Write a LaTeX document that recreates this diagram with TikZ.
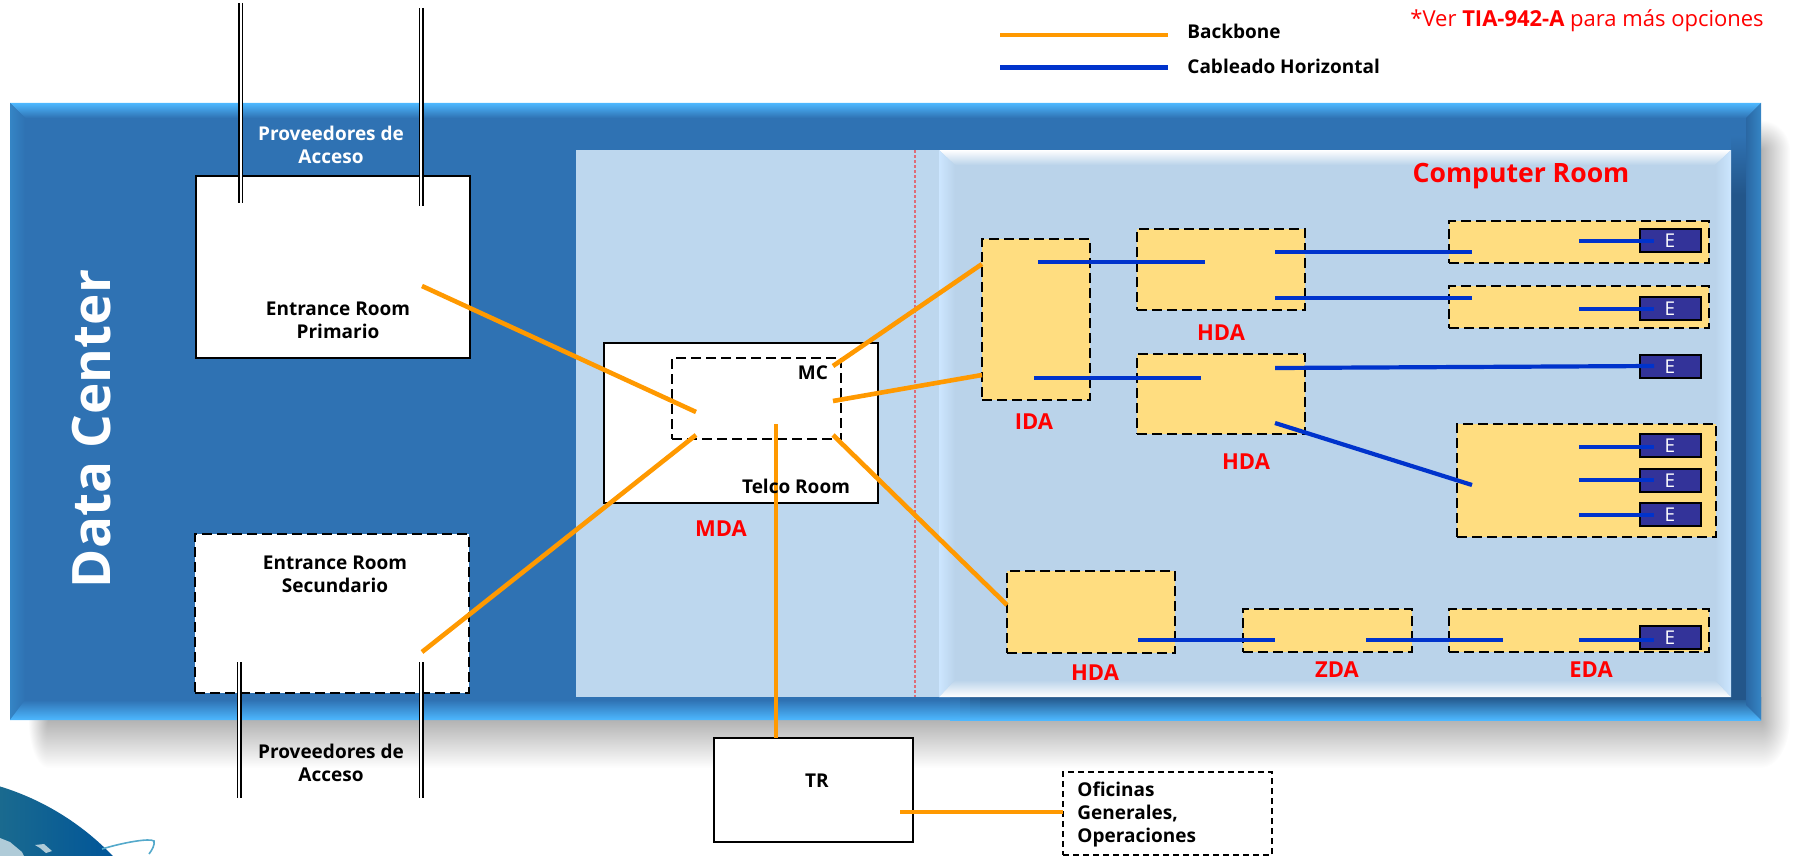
\documentclass[tikz,border=0pt]{standalone}
\usepackage{fontspec}
\setmainfont{Open Sans}
\definecolor{dcblue}{HTML}{2F72B3}
\definecolor{dcdark}{HTML}{23568A}
\definecolor{dclight}{HTML}{4DB8FF}
\definecolor{dcrim}{HTML}{3585C5}
\definecolor{roomblue}{HTML}{BDD7EE}
\definecolor{crblue}{HTML}{BAD3EA}
\definecolor{crlight}{HTML}{CCE6FF}
\definecolor{areayellow}{HTML}{FFDD80}
\definecolor{backbone}{HTML}{FF9900}
\definecolor{horiz}{HTML}{0033CC}
\definecolor{equip}{HTML}{333399}
\definecolor{shade}{HTML}{B3B3B3}
\definecolor{globea}{HTML}{1A6A8F}
\definecolor{globeb}{HTML}{004466}
\definecolor{globec}{HTML}{005599}
\tikzset{
  room/.style={draw=black,fill=white,line width=1pt,inner sep=0pt,outer sep=0pt},
  dashroom/.style={room,dash pattern=on 5pt off 2.5pt},
  area/.style={dashroom,fill=areayellow,line width=.8pt},
  equipo/.style={draw=black,fill=equip,line width=1pt,inner sep=0pt,outer sep=0pt,minimum width=30.5pt,minimum height=11.5pt,text=white,font=\fontsize{9.5}{10}\selectfont},
  label/.style={font=\fontsize{9.5}{11.5}\selectfont\bfseries,inner sep=0pt,align=center},
  redlabel/.style={font=\fontsize{11}{12}\selectfont\bfseries,text=red,inner sep=0pt},
  bb/.style={draw=backbone,line width=2.3pt},
  hz/.style={draw=horiz,line width=2.1pt},
  proveedor/.style={double=white,draw=black,line width=.75pt,double distance=1pt}
}
\begin{document}
\begin{tikzpicture}[x=.5pt,y=-.5pt]
\useasboundingbox (0,0) rectangle (1793,856);
\shade[top color=shade,bottom color=white] (48,720) rectangle (1761,768);
\shade[left color=shade,right color=white] (1761,150) rectangle (1790,720);
\begin{scope}
  \clip (28,720) rectangle (48,768);
  \shade[inner color=shade,outer color=white] (48,720) ellipse[x radius=20,y radius=48];
\end{scope}
\begin{scope}
  \clip (1761,120) rectangle (1790,150);
  \shade[inner color=shade,outer color=white] (1761,150) ellipse[x radius=29,y radius=30];
\end{scope}
\begin{scope}
  \clip (1761,720) rectangle (1790,768);
  \shade[inner color=shade,outer color=white] (1761,720) ellipse[x radius=29,y radius=48];
\end{scope}
\fill[dcblue] (10,103) rectangle (1761,720);
\shade[top color=dclight,bottom color=dcblue] (10,103) -- (1761,103) -- (1746,118) -- (25,118) -- cycle;
\shade[left color=dcrim,right color=dcblue] (10,103) -- (25,118) -- (25,705) -- (10,720) -- cycle;
\shade[top color=dcblue,bottom color=dclight] (25,700) -- (950,700) -- (950,720) -- (10,720) -- cycle;
\shade[top color=dcblue!75!dcdark,bottom color=dclight] (950,697) rectangle (960,720);
\shade[top color=dcblue!50!dcdark,bottom color=dclight] (960,697) rectangle (970,720);
\shade[top color=dcblue!25!dcdark,bottom color=dclight] (970,697) rectangle (980,720);
\shade[top color=dcdark,bottom color=dclight] (980,697) -- (1761,697) -- (1761,720) -- (980,720) -- cycle;
\shade[top color=dcblue,bottom color=dcdark] (1731,135) rectangle (1746,195);
\fill[dcdark] (1731,195) rectangle (1746,700);
\shade[left color=dcblue!60!dcdark,right color=dcrim] (1746,118) -- (1761,103) -- (1761,720) -- (1746,705) -- cycle;
\fill[roomblue] (576,150) rectangle (939,697);
\fill[crblue] (939,150) rectangle (1731,697);
\shade[top color=white,bottom color=crblue] (939,150) -- (1731,150) -- (1715,165) -- (955,165) -- cycle;
\shade[top color=crblue,bottom color=white] (955,680) -- (1715,680) -- (1731,697) -- (939,697) -- cycle;
\shade[left color=crlight,right color=crblue] (939,150) -- (955,165) -- (955,680) -- (939,697) -- cycle;
\shade[left color=crblue,right color=crlight] (1715,165) -- (1731,150) -- (1731,697) -- (1715,680) -- cycle;
\draw[draw=red!50!roomblue,line width=.7pt,dash pattern=on 1.5pt off 1pt] (915,150) -- (915,697);
\begin{scope}
  \clip (-77,1038) circle[radius=263];
  \shade[left color=globea,middle color=globeb,right color=globec] (0,770) rectangle (115,856);
  \fill[white!65!globea] (0,838) -- (10,842) -- (22,852) -- (24,856) -- (0,856) -- cycle;
  \fill[white!65!globea] (35,845) -- (44,844) -- (52,851) -- (46,853) -- (40,848) -- cycle;
\end{scope}
\draw[draw=cyan!60!gray,line width=.8pt] (102,849) .. controls (125,842) and (150,838) .. (154,841) .. controls (155,845) and (152,850) .. (149,854);
\node[room,minimum width=137pt,minimum height=91pt] (ep) at (333,267) {};
\node[dashroom,minimum width=137pt,minimum height=79.5pt] (es) at (332,613.5) {};
\node[room,minimum width=137pt,minimum height=80pt] (telco) at (741,423) {};
\node[dashroom,minimum width=84.5pt,minimum height=40.5pt] (mc) at (756.5,398.5) {};
\node[room,minimum width=99.5pt,minimum height=52pt] (tr) at (813.5,790) {};
\node[dashroom,line width=.8pt,dash pattern=on 3pt off 2pt,minimum width=104.5pt,minimum height=41.5pt] (ofi) at (1167.5,813.5) {};
\node[area,minimum width=54pt,minimum height=80.5pt] (ida) at (1036,319.5) {};
\node[area,minimum width=84pt,minimum height=40.5pt] (hda1) at (1221,269.5) {};
\node[area,minimum width=84pt,minimum height=40pt] (hda2) at (1221,394) {};
\node[area,minimum width=84pt,minimum height=41pt] (hda3) at (1091,612) {};
\node[area,minimum width=84.5pt,minimum height=21.5pt] (zda) at (1327.5,630.5) {};
\node[area,minimum width=130pt,minimum height=21.5pt] (eda) at (1579,630.5) {};
\node[area,minimum width=130pt,minimum height=21pt] (eda1) at (1579,242) {};
\node[area,minimum width=130pt,minimum height=21pt] (eda2) at (1579,307) {};
\node[area,minimum width=129.5pt,minimum height=56.5pt] (eda4) at (1586.5,480.5) {};
\node[equipo] (e1) at (1670,240.5) {E}; \node[equipo] (e2) at (1670,308.5) {E};
\node[equipo] (e3) at (1670,366.5) {E}; \node[equipo] (e4) at (1670,445.5) {E};
\node[equipo] (e5) at (1670,480.5) {E}; \node[equipo] (e6) at (1670,514.5) {E};
\node[equipo] (e7) at (1670,637.5) {E};
\coordinate (pt1) at (240.5,3); \coordinate (pt1b) at (240.5,203);
\coordinate (pt2) at (421,8); \coordinate (pt2b) at (421,206);
\coordinate (pb1) at (239,662); \coordinate (pb1b) at (239,798);
\coordinate (pb2) at (421,662); \coordinate (pb2b) at (421,798);
\draw[proveedor] (pt1) -- (pt1b); \draw[proveedor] (pt2) -- (pt2b);
\draw[proveedor] (pb1) -- (pb1b); \draw[proveedor] (pb2) -- (pb2b);
\coordinate (epa) at (422,286); \coordinate (mca) at (696,412);
\coordinate (esa) at (422,652); \coordinate (mcb) at (696,435);
\coordinate (mcc) at (833,366); \coordinate (idaa) at (982,264);
\coordinate (mcd) at (833,401); \coordinate (idab) at (982,375);
\coordinate (mce) at (833,435); \coordinate (hdaa) at (1007,605);
\coordinate (mcf) at (776,424); \coordinate (tra) at (776,738);
\coordinate (trb) at (900,812); \coordinate (ofia) at (1063,812);
\draw[bb] (epa) -- (mca); \draw[bb] (esa) -- (mcb);
\draw[bb] (mcc) -- (idaa); \draw[bb] (mcd) -- (idab);
\draw[bb] (mce) -- (hdaa); \draw[bb] (mcf) -- (tra);
\draw[bb] (trb) -- (ofia);
\coordinate (ida1) at (1038,262); \coordinate (hd1) at (1205,262);
\coordinate (ida2) at (1034,378); \coordinate (hd2) at (1201,378);
\coordinate (hd1a) at (1275,252); \coordinate (ed1) at (1472,252);
\coordinate (hd1b) at (1275,298); \coordinate (ed2) at (1472,298);
\coordinate (hd2a) at (1275,368); \coordinate (e3a) at (1654,366);
\coordinate (hd2b) at (1275,423); \coordinate (ed4) at (1472,485);
\coordinate (ed1a) at (1579,241); \coordinate (e1a) at (1654,241);
\coordinate (ed2a) at (1579,309); \coordinate (e2a) at (1654,309);
\coordinate (ed4a) at (1579,447); \coordinate (e4a) at (1654,447);
\coordinate (ed4b) at (1579,480); \coordinate (e5a) at (1654,480);
\coordinate (ed4c) at (1579,515); \coordinate (e6a) at (1654,515);
\coordinate (eda7) at (1579,640); \coordinate (e7a) at (1654,640);
\coordinate (hd3) at (1138,640); \coordinate (zd1) at (1274.5,640);
\coordinate (zd2) at (1366,640); \coordinate (eda0) at (1503,640);
\draw[hz] (ida1) -- (hd1); \draw[hz] (ida2) -- (hd2);
\draw[hz] (hd1a) -- (ed1); \draw[hz] (hd1b) -- (ed2);
\draw[hz] (hd2a) -- (e3a); \draw[hz] (hd2b) -- (ed4);
\draw[hz] (ed1a) -- (e1a); \draw[hz] (ed2a) -- (e2a);
\draw[hz] (ed4a) -- (e4a); \draw[hz] (ed4b) -- (e5a);
\draw[hz] (ed4c) -- (e6a); \draw[hz] (eda7) -- (e7a);
\draw[hz] (hd3) -- (zd1); \draw[hz] (zd2) -- (eda0);
\coordinate (lega) at (1000,35); \coordinate (legb) at (1167.5,35);
\coordinate (legc) at (1000,67.5); \coordinate (legd) at (1167.5,67.5);
\draw[bb] (lega) -- (legb); \draw[hz] (legc) -- (legd);
\node[label,anchor=west] (ltb) at (1187,31) {Backbone};
\node[label,anchor=west] (lth) at (1187,66) {Cableado Horizontal};
\node[anchor=west,inner sep=0pt,text=red,font=\fontsize{11}{12}\selectfont] (nota) at (1410,21) {*Ver \textbf{TIA-942-A} para más opciones};
\node[label,text=white] (pvt) at (331,144.5) {Proveedores de\\Acceso};
\node[label] (pvb) at (331,762.5) {Proveedores de\\Acceso};
\node[label] (tep) at (338,320.5) {Entrance Room\\Primario};
\node[label] (tes) at (335,574) {Entrance Room\\Secundario};
\node[label] (ttel) at (796,486) {Telco Room};
\node[label] (tmc) at (813,373) {MC};
\node[label] (ttr) at (817,781) {TR};
\node[label,anchor=west,align=left] (tofi) at (1077,815) {Oficinas\\Generales,\\Operaciones};
\node[redlabel] (lmda) at (721,529) {MDA};
\node[redlabel] (lida) at (1034,422) {IDA};
\node[redlabel] (lhd1) at (1221,333) {HDA};
\node[redlabel] (lhd2) at (1246,462) {HDA};
\node[redlabel] (lhd3) at (1095,673) {HDA};
\node[redlabel] (lzda) at (1337,670) {ZDA};
\node[redlabel] (leda) at (1591,670) {EDA};
\node[redlabel,font=\fontsize{13.3}{14}\selectfont\bfseries] (lcr) at (1521,176) {Computer Room};
\node[inner sep=0pt,rotate=90,text=white,font=\fontsize{26.5}{28}\selectfont\bfseries] (ldc) at (92,429) {Data Center};
\end{tikzpicture}
\end{document}
